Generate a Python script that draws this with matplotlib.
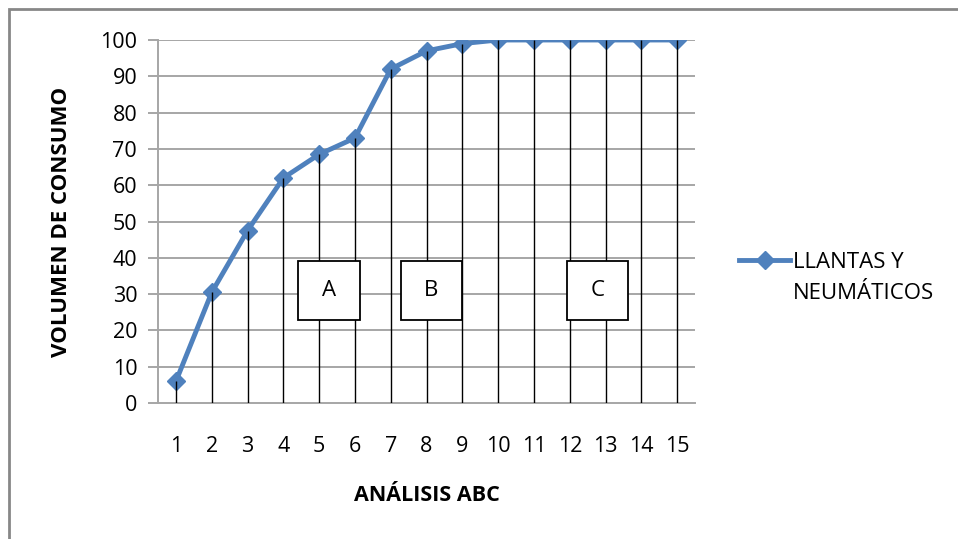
import matplotlib
matplotlib.use("Agg")
import matplotlib.pyplot as plt
from matplotlib.patches import Rectangle

plt.rcParams['font.family'] = ['Liberation Sans Narrow', 'Open Sans', 'DejaVu Sans']

# data
x_vals = list(range(1, 16))
consumo = [6, 30.5, 47.5, 62, 68.5, 73, 92, 97, 99, 100, 100, 100, 100, 100, 100]
serie_label = ["LLANTAS Y", "NEUMÁTICOS"]
zonas = ["A", "B", "C"]
zona_x = [4.42, 7.28, 11.92]
zona_w = 1.72

blue = "#4F81BD"
grid_gray = "#A6A6A6"

fig = plt.figure(figsize=(9.58, 5.39), dpi=100)
ax = fig.add_axes([0.165, 0.2523, 0.5605, 0.6735])

# outer chart frame (left and top edges visible)
fig.add_artist(Rectangle((9 / 958, -0.1), 1.2, 1 - 9 / 539 + 0.1,
                         transform=fig.transFigure, fill=False,
                         edgecolor="#878787", linewidth=2))

ax.set_xlim(0.5, 15.5)
ax.set_ylim(0, 100)
ax.set_yticks(range(0, 101, 10))
ax.set_xticks(x_vals)

for y in range(10, 101, 10):
    ax.axhline(y, color=grid_gray, linewidth=1.4, zorder=1)

ax.plot(x_vals, consumo, color=blue, linewidth=3.5, marker="D",
        markersize=9, markeredgecolor=blue, label=serie_label[0], zorder=3)
ax.vlines(x_vals, 0, consumo, color="black", linewidth=1.0, zorder=4)

for name, zx in zip(zonas, zona_x):
    ax.add_patch(Rectangle((zx, 23), zona_w, 16, facecolor="white",
                           edgecolor="black", linewidth=1.3, zorder=5))
    ax.text(zx + zona_w / 2, 31, name, ha="center", va="center",
            fontsize=16, zorder=6)

for side in ["top", "right"]:
    ax.spines[side].set_visible(False)
ax.spines["left"].set_color(grid_gray)
ax.spines["bottom"].set_color(grid_gray)
ax.spines["left"].set_linewidth(1.4)
ax.spines["bottom"].set_linewidth(1.4)
ax.tick_params(axis="y", length=7, color=grid_gray, width=1.4, pad=8,
               labelsize=15.5)
ax.tick_params(axis="x", length=0, pad=24, labelsize=15.5)

ax.set_ylabel("VOLUMEN DE CONSUMO", fontsize=16, fontweight="bold",
              labelpad=20)
ax.set_xlabel("ANÁLISIS ABC", fontsize=15.5, fontweight="bold", labelpad=20)

# legend: marker sits beside the first line, second line wraps below
leg = ax.legend(loc="center left", bbox_to_anchor=(1.045, 0.388),
                frameon=False, fontsize=16, handlelength=2.3,
                handletextpad=0.1)
ax.text(1.1825, 0.303, serie_label[1], transform=ax.transAxes,
        fontsize=16, ha="left", va="center")

fig.savefig("out.png", dpi=100)
